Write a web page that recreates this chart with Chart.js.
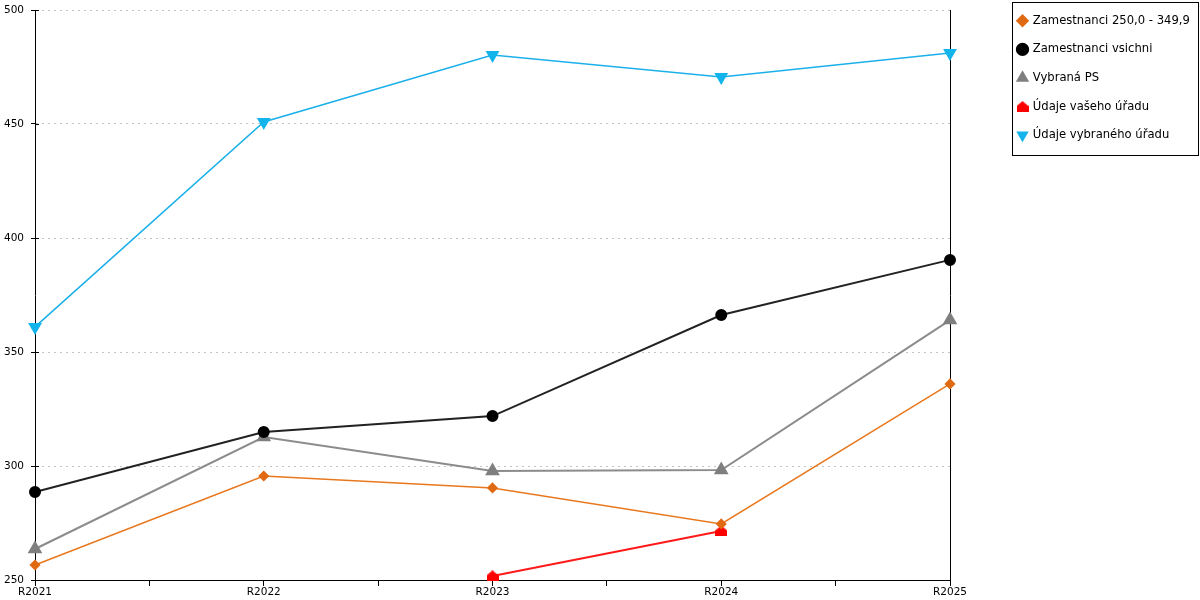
<!DOCTYPE html>
<html>
<head>
<meta charset="utf-8">
<script src="https://cdn.jsdelivr.net/npm/chart.js@4"></script>
<style>
  html, body { margin: 0; padding: 0; background: #fff; }
  #wrap { width: 1200px; height: 600px; }
</style>
</head>
<body>
<div id="wrap"><canvas id="chart" width="1200" height="600"></canvas></div>
<script>
// roky na ose x
const years = ['R2021', 'R2022', 'R2023', 'R2024', 'R2025'];

// hodnoty
const zam250 = [256.6, 295.6, 290.4, 274.6, 336.0];
const zamVsichni = [288.6, 314.9, 321.9, 366.2, 390.4];
const vybranaPS = [263.6, 312.7, 297.8, 298.2, 364.0];
const vasUrad = [null, null, 251.8, 271.5, null];
const vybranyUrad = [361.0, 450.9, 480.3, 470.6, 481.1];

const yTicks = [250, 300, 350, 400, 450, 500];

const FONT = 'DejaVu Sans';

function toPoints(values) {
  return values.map((v, i) => ({ x: i, y: v }));
}

// znacka "domecek" pro udaje vaseho uradu
function houseMarker(color) {
  const c = document.createElement('canvas');
  c.width = 12;
  c.height = 11;
  const g = c.getContext('2d');
  g.fillStyle = color;
  g.beginPath();
  g.moveTo(0, 11);
  g.lineTo(0, 5);
  g.lineTo(6, 0);
  g.lineTo(12, 5);
  g.lineTo(12, 11);
  g.closePath();
  g.fill();
  return c;
}

const legendBox = {
  id: 'legendBox',
  afterLayout(chart) {
    const lg = chart.legend;
    const h = lg.height;
    lg.left = 1001;
    lg.right = 1199;
    lg.top = -2;
    lg.bottom = lg.top + h;
  },
  afterDraw(chart) {
    const ctx = chart.ctx;
    ctx.save();
    ctx.strokeStyle = '#000';
    ctx.lineWidth = 1;
    ctx.strokeRect(1012.5, 2.5, 186, 153);
    // kratke carky hodnot presahuji osu i dovnitr
    const y = chart.scales.y;
    ctx.beginPath();
    yTicks.forEach(v => {
      const py = Math.round(y.getPixelForValue(v)) + 0.5;
      ctx.moveTo(y.right, py);
      ctx.lineTo(y.right + 4, py);
    });
    ctx.stroke();
    ctx.restore();
  }
};

const ctx = document.getElementById('chart').getContext('2d');

new Chart(ctx, {
  type: 'line',
  data: {
    datasets: [
      {
        label: 'Zamestnanci 250,0 - 349,9',
        data: toPoints(zam250),
        borderColor: '#E8781E',
        backgroundColor: '#E06A12',
        pointBackgroundColor: '#E06A12',
        pointBorderColor: '#E06A12',
        borderWidth: 1.5,
        pointStyle: 'rectRot',
        pointRadius: 4.5
      },
      {
        label: 'Zamestnanci vsichni',
        data: toPoints(zamVsichni),
        borderColor: '#222222',
        backgroundColor: '#000000',
        pointBackgroundColor: '#000000',
        pointBorderColor: '#000000',
        borderWidth: 2,
        pointStyle: 'circle',
        pointRadius: 5
      },
      {
        label: 'Vybraná PS',
        data: toPoints(vybranaPS),
        borderColor: '#8C8C8C',
        backgroundColor: '#7F7F7F',
        pointBackgroundColor: '#7F7F7F',
        pointBorderColor: '#7F7F7F',
        borderWidth: 2,
        pointStyle: 'triangle',
        pointRadius: 6.5
      },
      {
        label: 'Údaje vašeho úřadu',
        data: toPoints(vasUrad),
        borderColor: '#FF1A1A',
        backgroundColor: '#FF0000',
        pointBackgroundColor: '#FF0000',
        pointBorderColor: '#FF0000',
        borderWidth: 2,
        pointStyle: houseMarker('#FF0000')
      },
      {
        label: 'Údaje vybraného úřadu',
        data: toPoints(vybranyUrad),
        borderColor: '#1CB0EA',
        backgroundColor: '#13B4EC',
        pointBackgroundColor: '#13B4EC',
        pointBorderColor: '#13B4EC',
        borderWidth: 1.5,
        pointStyle: 'triangle',
        pointRotation: 180,
        pointRadius: 6.5
      }
    ]
  },
  options: {
    responsive: false,
    animation: false,
    devicePixelRatio: 1,
    layout: { padding: { top: 10, right: 1, bottom: 0, left: 0 } },
    datasets: { line: { clip: false } },
    elements: {
      line: { tension: 0 },
      point: { borderWidth: 0, hoverRadius: 6 }
    },
    plugins: {
      tooltip: { enabled: false },
      legend: {
        position: 'right',
        align: 'start',
        labels: {
          usePointStyle: true,
          boxWidth: 9,
          boxHeight: 8,
          padding: 17,
          color: '#000',
          font: { family: FONT, size: 11.6 }
        }
      }
    },
    scales: {
      x: {
        type: 'linear',
        min: 0,
        max: years.length - 1,
        afterFit: s => { s.height = 20; },
        afterBuildTicks: s => {
          const t = [];
          for (let v = 0; v <= years.length - 1; v += 0.5) t.push({ value: v });
          s.ticks = t;
        },
        ticks: {
          autoSkip: false,
          maxRotation: 0,
          padding: 0,
          color: '#000',
          font: { family: FONT, size: 10.5 },
          callback: v => (Number.isInteger(v) ? years[v] : '')
        },
        grid: {
          drawOnChartArea: false,
          drawTicks: true,
          tickLength: 6,
          tickColor: '#000'
        },
        border: { display: true, color: '#000', width: 1 }
      },
      y: {
        min: 250,
        max: 500,
        afterFit: s => {
          s.width = 35;
          s.paddingTop = 0;
          s.paddingBottom = 0;
        },
        afterBuildTicks: s => { s.ticks = yTicks.map(v => ({ value: v })); },
        ticks: {
          padding: 7,
          color: '#000',
          font: { family: FONT, size: 10.5 }
        },
        grid: {
          color: '#C4C4C4',
          lineWidth: 1,
          drawTicks: true,
          tickLength: 4,
          tickColor: '#000',
          tickBorderDash: []
        },
        border: { display: true, color: '#000', width: 1, dash: [2, 4] }
      },
      y2: {
        position: 'right',
        min: 250,
        max: 500,
        afterFit: s => {
          s.width = 1199 - s.chart.legend.width - 950;
          s.paddingTop = 0;
          s.paddingBottom = 0;
        },
        ticks: { display: false },
        grid: { display: false, drawTicks: false },
        border: { display: true, color: '#000', width: 1 }
      }
    }
  },
  plugins: [legendBox]
});
</script>
</body>
</html>
